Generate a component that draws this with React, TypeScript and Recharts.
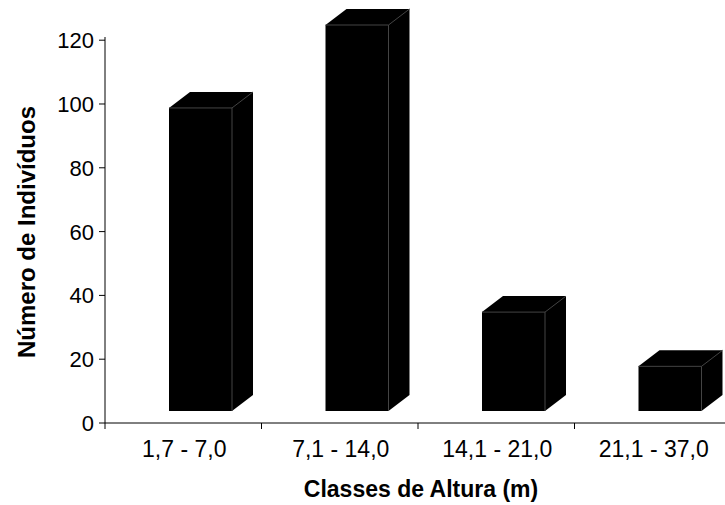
import React from 'react';
import { BarChart, Bar, XAxis, YAxis, Label } from 'recharts';

const categories = ['1,7 - 7,0', '7,1 - 14,0', '14,1 - 21,0', '21,1 - 37,0'];
const individuals = [95, 121, 31, 14];
const yTicks = [0, 20, 40, 60, 80, 100, 120];

const data = categories.map((name, i) => ({ name, value: individuals[i] }));

const FONT = '"Liberation Sans", Arial, Helvetica, sans-serif';
const W = 731;
const H = 505;
// value axis runs 0..121 (data max), so the 120 tick lands a few px below the plot top
const MARGIN = { top: 37, right: 0, bottom: 81, left: 104 };
const BAND = (W - MARGIN.left - 1 - MARGIN.right) / categories.length;

// 3D box look: front face is shifted off the value-axis plane, side/top go back by DX/DY
const DX = 21;
const DY = 16;
const SHIFT_X = 17;
const SHIFT_Y = -12;
const TICK_SIZE = 6;
const TICK_MARGIN = 11;

function Box3D(props: any) {
  const { x, y, width, height } = props;
  if (width == null || height == null) return null;
  const fx = x + SHIFT_X;
  const ft = y + SHIFT_Y;
  const fb = y + height + SHIFT_Y;
  const fr = fx + width;
  const pts = [
    [fx, fb],
    [fx, ft],
    [fx + DX, ft - DY],
    [fr + DX, ft - DY],
    [fr + DX, fb - DY],
    [fr, fb],
  ]
    .map((p) => p.join(','))
    .join(' ');
  return (
    <g>
      <polygon points={pts} fill="#000" />
      <path
        d={`M${fx},${ft} L${fr},${ft} L${fr + DX},${ft - DY} M${fr},${ft} L${fr},${fb}`}
        stroke="#444"
        strokeWidth={1}
        fill="none"
      />
    </g>
  );
}

function CategoryTick(props: any) {
  const { x, y, payload } = props;
  const left = x - BAND / 2;
  const axisY = y - TICK_SIZE - TICK_MARGIN;
  return (
    <g>
      <line x1={left} y1={axisY} x2={left} y2={axisY + TICK_SIZE} stroke="#000" />
      <text
        x={x + 1}
        y={y}
        dy="0.72em"
        textAnchor="middle"
        fontFamily={FONT}
        fontSize={23}
        fill="#000"
      >
        {payload.value}
      </text>
    </g>
  );
}

function ValueTick(props: any) {
  const { x, y, payload } = props;
  return (
    <text
      x={x}
      y={y}
      dy="0.36em"
      textAnchor="end"
      fontFamily={FONT}
      fontSize={22}
      fill="#000"
    >
      {payload.value}
    </text>
  );
}

export default function App() {
  return (
    <div style={{ position: 'absolute', left: 0, top: 0, width: 725, height: 505, overflow: 'hidden', background: '#fff' }}>
      <BarChart width={W} height={H} data={data} margin={MARGIN} barCategoryGap={0}>
        <XAxis
          dataKey="name"
          height={1}
          axisLine={{ stroke: '#000' }}
          tickLine={false}
          tickSize={TICK_SIZE}
          tickMargin={TICK_MARGIN}
          tick={<CategoryTick />}
          interval={0}
        >
          <Label
            content={(p: any) => {
              const vb = p.viewBox;
              return (
                <text
                  x={vb.x + vb.width / 2 + 3}
                  y={vb.y + 74}
                  textAnchor="middle"
                  fontFamily={FONT}
                  fontWeight="bold"
                  fontSize={23}
                  fill="#000"
                >
                  Classes de Altura (m)
                </text>
              );
            }}
          />
        </XAxis>
        <YAxis
          width={1}
          domain={[0, 120]}
          ticks={yTicks}
          axisLine={{ stroke: '#000' }}
          tickLine={{ stroke: '#000' }}
          tickSize={TICK_SIZE}
          tickMargin={5}
          tick={<ValueTick />}
        >
          <Label
            content={(p: any) => {
              const vb = p.viewBox;
              const cx = 26;
              const cy = vb.y + vb.height / 2 + 2;
              return (
                <text
                  x={cx}
                  y={cy}
                  transform={`rotate(-90 ${cx} ${cy})`}
                  textAnchor="middle"
                  dominantBaseline="central"
                  fontFamily={FONT}
                  fontWeight="bold"
                  fontSize={24}
                  fill="#000"
                >
                  Número de Indivíduos
                </text>
              );
            }}
          />
        </YAxis>
        <Bar dataKey="value" barSize={63} shape={<Box3D />} isAnimationActive={false} />
      </BarChart>
    </div>
  );
}
